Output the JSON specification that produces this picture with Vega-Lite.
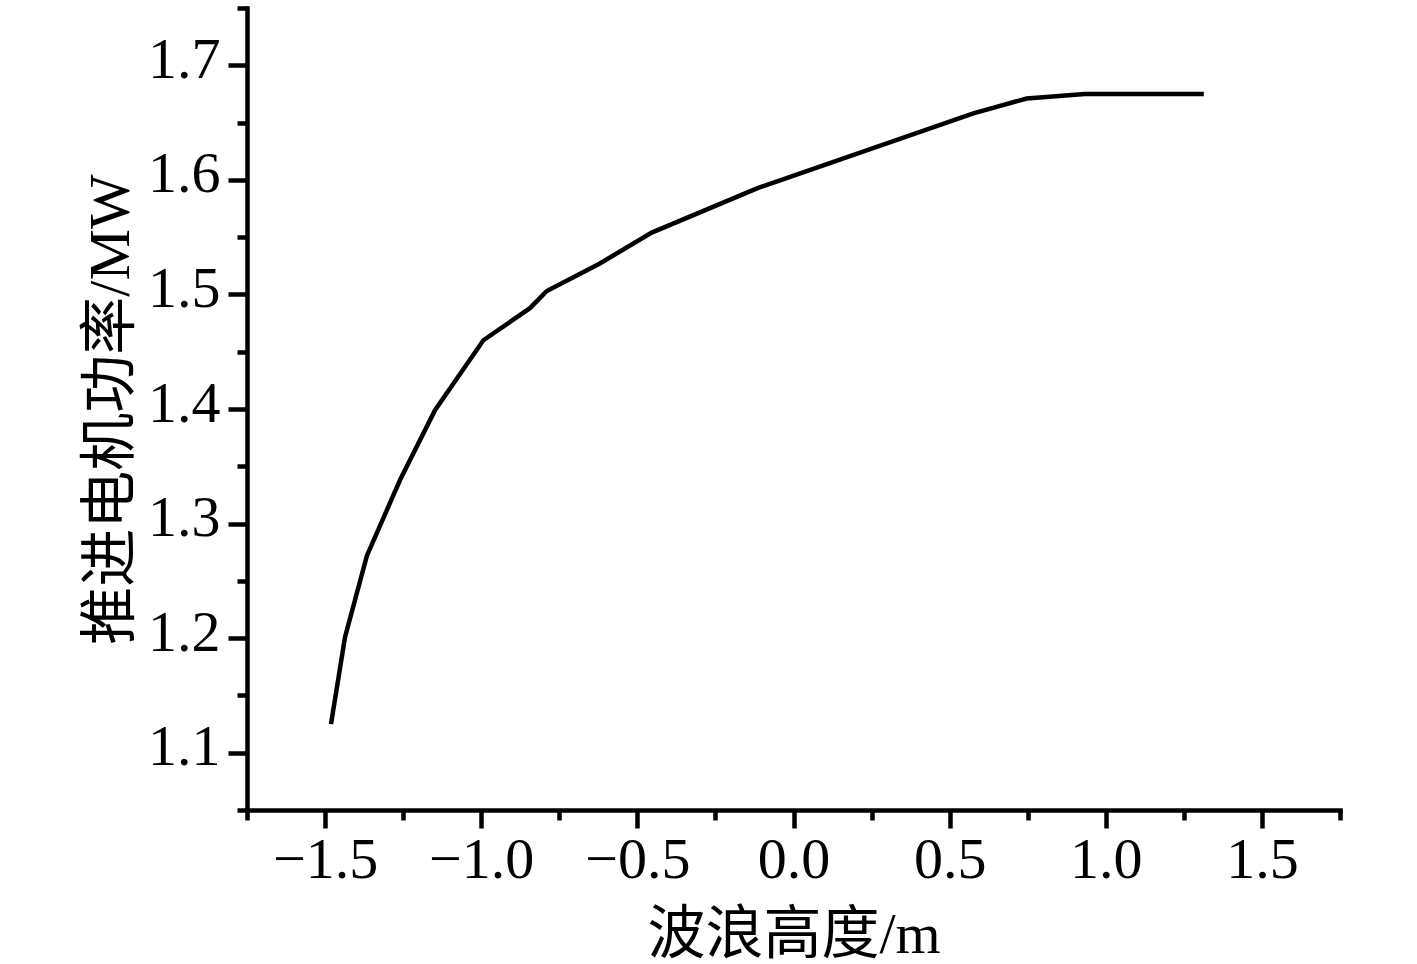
{
  "$schema": "https://vega.github.io/schema/vega-lite/v6.json",
  "autosize": {"type": "none"},
  "padding": {"left": 247, "top": 8, "right": 77, "bottom": 154},
  "width": 1093,
  "height": 802,
  "background": "white",
  "config": {
    "view": {"stroke": null},
    "font": "Liberation Serif",
    "axis": {
      "grid": false,
      "domainColor": "black",
      "tickColor": "black",
      "labelColor": "black",
      "titleColor": "black",
      "domainWidth": 4.5,
      "tickWidth": 4.5,
      "domainCap": "square"
    }
  },
  "data": {
    "values": [
      {"h": -1.481, "p": 1.125},
      {"h": -1.436, "p": 1.201},
      {"h": -1.366, "p": 1.272},
      {"h": -1.260, "p": 1.338},
      {"h": -1.148, "p": 1.399},
      {"h": -0.993, "p": 1.460},
      {"h": -0.844, "p": 1.488},
      {"h": -0.790, "p": 1.503},
      {"h": -0.620, "p": 1.527},
      {"h": -0.454, "p": 1.554},
      {"h": -0.113, "p": 1.593},
      {"h": 0.576, "p": 1.658},
      {"h": 0.747, "p": 1.671},
      {"h": 0.933, "p": 1.675},
      {"h": 1.314, "p": 1.675}
    ]
  },
  "layer": [
    {
      "mark": {"type": "line", "color": "black", "strokeWidth": 4.5},
      "encoding": {
        "x": {
          "field": "h",
          "type": "quantitative",
          "scale": {"domain": [-1.75, 1.75], "nice": false, "zero": false},
          "axis": {
            "orient": "bottom",
            "values": [-1.5, -1.0, -0.5, 0.0, 0.5, 1.0, 1.5],
            "format": ".1f",
            "tickSize": 18,
            "labelPadding": 3,
            "labelFontSize": 58,
            "labelFont": "Liberation Serif",
            "labelFlush": false,
            "labelOverlap": false,
            "title": "波浪高度/m",
            "titleFont": "Liberation Serif, Noto Sans CJK SC",
            "titleFontSize": 58,
            "titleFontWeight": "normal",
            "titleBaseline": "alphabetic",
            "titleX": 546.5,
            "titleY": 142
          }
        },
        "y": {
          "field": "p",
          "type": "quantitative",
          "scale": {"domain": [1.05, 1.75], "nice": false, "zero": false},
          "axis": {
            "orient": "left",
            "values": [1.1, 1.2, 1.3, 1.4, 1.5, 1.6, 1.7],
            "format": ".1f",
            "tickSize": 19,
            "labelPadding": 8,
            "labelOffset": -5,
            "labelFontSize": 58,
            "labelFont": "Liberation Serif",
            "labelFlush": false,
            "labelOverlap": false,
            "title": "推进电机功率/MW",
            "titleFont": "Liberation Serif, Noto Sans CJK SC",
            "titleFontSize": 58,
            "titleFontWeight": "normal",
            "titleAngle": -90,
            "titleBaseline": "alphabetic",
            "titleX": -119,
            "titleY": 401
          }
        }
      }
    },
    {
      "mark": {"type": "line", "opacity": 0},
      "encoding": {
        "x": {
          "field": "h",
          "type": "quantitative",
          "axis": {
            "orient": "bottom",
            "values": [-1.75, -1.25, -0.75, -0.25, 0.25, 0.75, 1.25, 1.75],
            "tickSize": 10,
            "labels": false,
            "domain": false,
            "title": null
          }
        },
        "y": {
          "field": "p",
          "type": "quantitative",
          "axis": {
            "orient": "left",
            "values": [1.05, 1.15, 1.25, 1.35, 1.45, 1.55, 1.65, 1.75],
            "tickSize": 10,
            "labels": false,
            "domain": false,
            "title": null
          }
        }
      }
    }
  ],
  "resolve": {"axis": {"x": "independent", "y": "independent"}}
}
